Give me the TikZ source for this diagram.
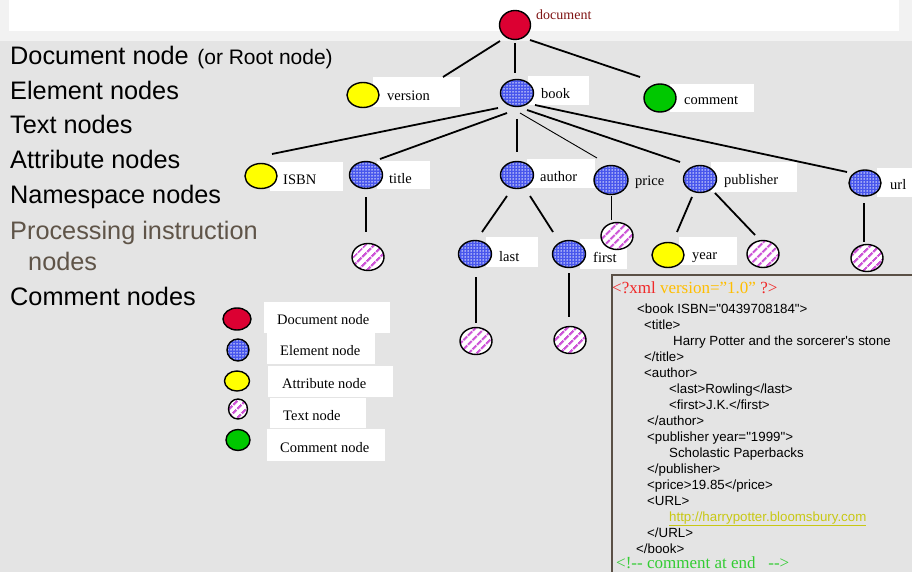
\documentclass[tikz,border=0pt]{standalone}
\usepackage{fontspec}
\setmainfont{Liberation Serif}
\newfontfamily\sansf{Liberation Sans}
\usetikzlibrary{shapes.geometric,patterns,patterns.meta}

\definecolor{pagegrey}{RGB}{228,228,228}
\definecolor{headgrey}{RGB}{242,242,242}
\definecolor{docred}{RGB}{220,0,50}
\definecolor{elemblue}{RGB}{72,86,236}
\definecolor{textpink}{RGB}{205,85,215}
\definecolor{attryellow}{RGB}{255,255,0}
\definecolor{commgreen}{RGB}{0,200,0}
\definecolor{labelred}{RGB}{128,20,20}
\definecolor{procbrown}{RGB}{95,84,72}
\definecolor{xmlred}{RGB}{240,40,40}
\definecolor{xmlgold}{RGB}{255,190,0}
\definecolor{xmlgreen}{RGB}{51,204,51}
\definecolor{urlolive}{RGB}{200,200,20}
\definecolor{boxline}{RGB}{90,80,70}

\tikzset{
  shp/.style={ellipse, draw=black, line width=1.4pt, inner sep=0pt,
    minimum width=33pt, minimum height=27pt},
  elem/.style={shp, preaction={fill=elemblue},
    pattern={Dots[distance=3pt,radius=0.75pt]}, pattern color=white},
  txtn/.style={shp, minimum width=32pt, preaction={fill=white},
    pattern={Lines[angle=45,distance=6.5pt,line width=2.6pt]},
    pattern color=textpink},
  attr/.style={shp, fill=attryellow, minimum width=32pt, minimum height=25pt},
  docn/.style={shp, fill=docred, minimum width=31pt, minimum height=29pt},
  comm/.style={shp, fill=commgreen, minimum width=32pt, minimum height=28pt},
  lbox/.style={fill=white, inner sep=0pt, anchor=north west},
  lbl/.style={anchor=west, inner sep=0pt, font=\fontsize{14.5}{16}\selectfont},
  conn/.style={line width=1.8pt},
  thin/.style={line width=0.9pt},
  listtxt/.style={anchor=base west, inner sep=0pt,
    font=\sansf\fontsize{25.3}{28}\selectfont},
  xsans/.style={anchor=base west, inner sep=0pt,
    font=\sansf\fontsize{13.3}{15}\selectfont},
  xserif/.style={anchor=base west, inner sep=0pt,
    font=\fontsize{17}{19}\selectfont}
}

\begin{document}
\begin{tikzpicture}[x=1pt,y=-1pt]
\useasboundingbox (0,0) rectangle (912,572);
% page and title band
\fill[pagegrey] (0,0) rectangle (912,572);
\fill[headgrey] (0,0) rectangle (912,41);
\fill[white] (9,0) rectangle (899,31);

% list of node kinds
\node[listtxt] (k1) at (10,65) {Document node\hspace{1.5pt} {\fontsize{21}{24}\selectfont (or Root node)}};
\node[listtxt] (k2) at (10,100) {Element nodes};
\node[listtxt] (k3) at (10,134) {Text nodes};
\node[listtxt] (k4) at (10,169) {Attribute nodes};
\node[listtxt] (k5) at (10,204) {Namespace nodes};
\node[listtxt, text=procbrown] (k6) at (10,239) {Processing instruction};
\node[listtxt, text=procbrown] (k7) at (28,270) {nodes};
\node[listtxt] (k8) at (10,305) {Comment nodes};

% white label boxes of the tree
\node[lbox, minimum width=87pt, minimum height=30pt] (versionbox) at (373,77) {};
\node[lbox, minimum width=61pt, minimum height=29pt] (bookbox) at (528,76) {};
\node[lbox, minimum width=84pt, minimum height=28pt] (commentbox) at (670,84) {};
\node[lbox, minimum width=73pt, minimum height=29pt] (isbnbox) at (270,162) {};
\node[lbox, minimum width=53pt, minimum height=28pt] (titlebox) at (377,161) {};
\node[lbox, minimum width=68pt, minimum height=29pt] (authorbox) at (527,159) {};
\node[lbox, minimum width=86pt, minimum height=30pt] (pubbox) at (711,162) {};
\node[lbox, minimum width=40pt, minimum height=29pt] (urlbox) at (877,168) {};
\node[lbox, minimum width=52pt, minimum height=30pt] (lastbox) at (486,237) {};
\node[lbox, minimum width=47pt, minimum height=30pt] (firstbox) at (580,239) {};
\node[lbox, minimum width=58pt, minimum height=28pt] (yearbox) at (679,237) {};

% legend boxes
\node[lbox, minimum width=126pt, minimum height=31pt] (lg1box) at (264,302) {};
\node[lbox, minimum width=108pt, minimum height=31pt] (lg2box) at (267,333) {};
\node[lbox, minimum width=125pt, minimum height=31pt] (lg3box) at (268,366) {};
\node[lbox, minimum width=96pt, minimum height=30pt] (lg4box) at (270,398) {};
\node[lbox, minimum width=118pt, minimum height=32pt] (lg5box) at (267,429) {};

% tree shapes
\node[docn] (doc) at (515,25) {};
\node[attr] (version) at (363,95) {};
\node[elem] (book) at (517,93) {};
\node[comm] (comment) at (660,98) {};
\node[attr] (isbn) at (261,176) {};
\node[elem] (title) at (366,175) {};
\node[elem] (author) at (517,175) {};
\node[elem, minimum width=34pt, minimum height=29pt] (price) at (611,180) {};
\node[elem] (publisher) at (700,179) {};
\node[elem, minimum width=32pt, minimum height=26pt] (url) at (865,183) {};
\node[txtn] (titletext) at (368,257) {};
\node[txtn] (pricetext) at (617,236) {};
\node[elem] (last) at (475,254) {};
\node[elem] (first) at (569,254) {};
\node[attr] (year) at (668,255) {};
\node[txtn] (pubtext) at (763,254) {};
\node[txtn] (urltext) at (867,258) {};
\node[txtn] (lasttext) at (476,341) {};
\node[txtn] (firsttext) at (570,340) {};

% tree labels
\node[lbl, text=labelred, font=\fontsize{14}{16}\selectfont] (doclbl) at (536,15) {document};
\node[lbl] (versionlbl) at ([xshift=14pt,yshift=-4pt]versionbox.west) {version};
\node[lbl] (booklbl) at ([xshift=13pt,yshift=-3pt]bookbox.west) {book};
\node[lbl] (commentlbl) at ([xshift=14pt,yshift=-2pt]commentbox.west) {comment};
\node[lbl] (isbnlbl) at ([xshift=13pt,yshift=-3pt]isbnbox.west) {ISBN};
\node[lbl] (titlelbl) at ([xshift=12pt,yshift=-3pt]titlebox.west) {title};
\node[lbl] (authorlbl) at ([xshift=13pt,yshift=-3pt]authorbox.west) {author};
\node[lbl] (pricelbl) at (635,182) {price};
\node[lbl] (publbl) at ([xshift=13pt,yshift=-4pt]pubbox.west) {publisher};
\node[lbl] (urllbl) at ([xshift=13pt,yshift=-2pt]urlbox.west) {url};
\node[lbl] (lastlbl) at ([xshift=13pt,yshift=-4pt]lastbox.west) {last};
\node[lbl] (firstlbl) at ([xshift=13pt,yshift=-3pt]firstbox.west) {first};
\node[lbl] (yearlbl) at ([xshift=13pt,yshift=-6pt]yearbox.west) {year};

% legend
\node[docn, minimum width=28pt, minimum height=22pt] (lg1) at (237,319) {};
\node[elem, minimum width=22pt, minimum height=22pt] (lg2) at (238,350) {};
\node[attr, minimum width=25pt, minimum height=20pt] (lg3) at (237,381) {};
\node[txtn, minimum width=19pt, minimum height=20pt] (lg4) at (238,409) {};
\node[comm, minimum width=24pt, minimum height=21pt] (lg5) at (238,440) {};
\node[lbl] (lg1lbl) at ([xshift=13pt,yshift=-2pt]lg1box.west) {Document node};
\node[lbl] (lg2lbl) at ([xshift=13pt,yshift=-2pt]lg2box.west) {Element node};
\node[lbl] (lg3lbl) at ([xshift=14pt,yshift=-2pt]lg3box.west) {Attribute node};
\node[lbl] (lg4lbl) at ([xshift=13pt,yshift=-2pt]lg4box.west) {Text node};
\node[lbl] (lg5lbl) at ([xshift=13pt,yshift=-2pt]lg5box.west) {Comment node};

% connectors
\draw[conn] ([shift={(-15,16)}]doc.center) -- ([shift={(80,-18)}]version.center);
\draw[conn] ([shift={(0,18)}]doc.center) -- ([shift={(-2,-20)}]book.center);
\draw[conn] ([shift={(15,15)}]doc.center) -- ([shift={(-20,-21)}]comment.center);
\draw[conn] ([shift={(-19,15)}]book.center) -- ([shift={(11,-22)}]isbn.center);
\draw[conn] ([shift={(-10,20)}]book.center) -- ([shift={(14,-16)}]title.center);
\draw[conn] ([shift={(0,26)}]book.center) -- ([shift={(0,-23)}]author.center);
\draw[thin] ([shift={(3,20)}]book.center) -- ([shift={(-14,-22)}]price.center);
\draw[conn] ([shift={(10,17)}]book.center) -- ([shift={(-20,-17)}]publisher.center);
\draw[conn] ([shift={(18,12)}]book.center) -- ([shift={(-18,-11)}]url.center);
\draw[conn] ([shift={(0,22)}]title.center) -- ([shift={(-2,-25)}]titletext.center);
\draw[conn] ([shift={(-10,21)}]author.center) -- ([shift={(7,-22)}]last.center);
\draw[conn] ([shift={(13,21)}]author.center) -- ([shift={(-16,-22)}]first.center);
\draw[thin] ([shift={(0,16)}]price.center) -- ([shift={(-6,-16)}]pricetext.center);
\draw[conn] ([shift={(-8,18)}]publisher.center) -- ([shift={(9,-23)}]year.center);
\draw[conn] ([shift={(15,14)}]publisher.center) -- ([shift={(-8,-19)}]pubtext.center);
\draw[conn] ([shift={(-1,20)}]url.center) -- ([shift={(-3,-16)}]urltext.center);
\draw[conn] ([shift={(1,23)}]last.center) -- ([shift={(0,-18)}]lasttext.center);
\draw[conn] ([shift={(0,19)}]first.center) -- ([shift={(-1,-23)}]firsttext.center);

% XML source listing
\draw[boxline, line width=1.2pt] (612,576) -- (612,275) -- (916,275);
\node[xserif] (x1) at (612,293) {\textcolor{xmlred}{<?xml} \textcolor{xmlgold}{version=”1.0”} \textcolor{xmlred}{?>}};
\node[xsans] (x2) at (637,313) {<book ISBN="0439708184">};
\node[xsans] (x3) at (644,329) {<title>};
\node[xsans] (x4) at (673,345) {Harry Potter and the sorcerer\textquotesingle s stone};
\node[xsans] (x5) at (644,361) {</title>};
\node[xsans] (x6) at (644,377) {<author>};
\node[xsans] (x7) at (669,393) {<last>Rowling</last>};
\node[xsans] (x8) at (669,409) {<first>J.K.</first>};
\node[xsans] (x9) at (647,425) {</author>};
\node[xsans] (x10) at (647,441) {<publisher year="1999">};
\node[xsans] (x11) at (669,457) {Scholastic Paperbacks};
\node[xsans] (x12) at (647,473) {</publisher>};
\node[xsans] (x13) at (647,489) {<price>19.85</price>};
\node[xsans] (x14) at (647,505) {<URL>};
\node[xsans, text=urlolive] (x15) at (669,521) {\underline{http://harrypotter.bloomsbury.com}};
\node[xsans] (x16) at (647,537) {</URL>};
\node[xsans] (x17) at (636,553) {</book>};
\node[xserif, text=xmlgreen] (x18) at (616,568) {<!-{}- comment at end\ \ \ -{}->};
\end{tikzpicture}
\end{document}
